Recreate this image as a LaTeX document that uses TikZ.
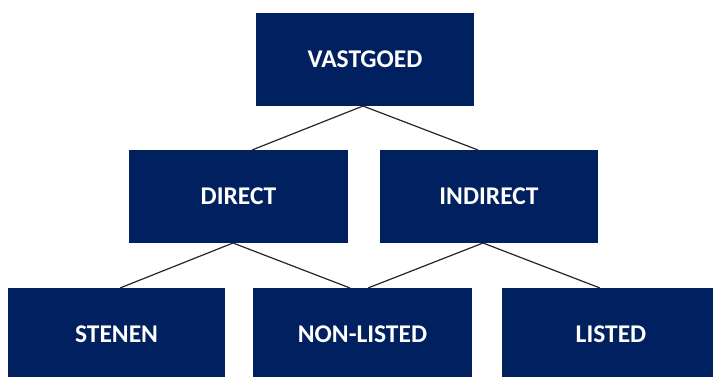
\documentclass[tikz,border=0pt]{standalone}
\usepackage{fontspec}
\setmainfont{Carlito}
\definecolor{navy}{RGB}{0,32,96}
\begin{document}
\begin{tikzpicture}[x=1pt,y=-1pt,
  box/.style={fill=navy,text=white,font=\bfseries\fontsize{25.5}{30}\selectfont,
    anchor=north west,minimum width=218pt,minimum height=93pt,inner sep=0pt,outer sep=0pt},
  link/.style={draw=black!85,line width=1.2pt}]
\clip (0,0) rectangle (713,376);
\useasboundingbox (0,0) rectangle (713,376);
\node[box] (v) at (256,13) {VASTGOED};
\node[box,minimum width=219pt] (d) at (129,150) {DIRECT};
\node[box] (i) at (380,150) {INDIRECT};
\node[box,minimum width=217pt] (s) at (8,288) {STENEN};
\node[box,minimum width=219pt] (n) at (253,288) {NON-LISTED};
\node[box] (l) at (502,288) {LISTED};
\draw[link] ([xshift=-2pt]v.south) -- ([xshift=13.5pt]d.north);
\draw[link] ([xshift=-2pt]v.south) -- ([xshift=-11pt]i.north);
\draw[link] ([xshift=-5.5pt]d.south) -- ([xshift=3.5pt]s.north);
\draw[link] ([xshift=-5.5pt]d.south) -- ([xshift=-12.5pt]n.north);
\draw[link] ([xshift=-6pt]i.south) -- ([xshift=5.5pt]n.north);
\draw[link] ([xshift=-6pt]i.south) -- ([xshift=-11pt]l.north);
\end{tikzpicture}
\end{document}
